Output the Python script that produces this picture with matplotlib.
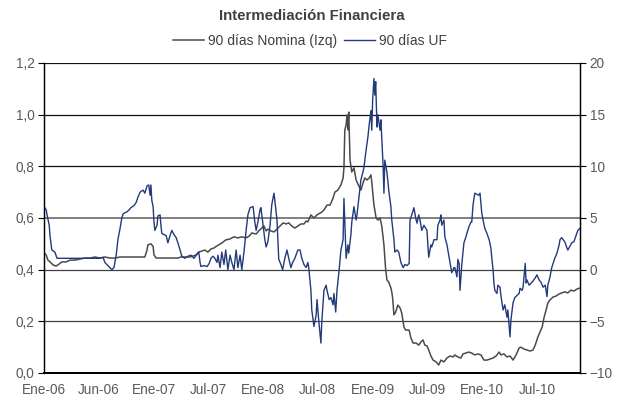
import matplotlib
matplotlib.use('Agg')
import matplotlib.pyplot as plt
from matplotlib.ticker import FuncFormatter

plt.rcParams['font.family'] = ['Liberation Sans', 'DejaVu Sans']

# eje x: numero de observacion (dias habiles desde Ene-06)
tick_obs = [0, 126, 252, 378, 504, 630, 756, 882, 1008, 1134]
tick_labels = ['Ene-06', 'Jun-06', 'Ene-07', 'Jul-07', 'Ene-08',
               'Jul-08', 'Ene-09', 'Jul-09', 'Ene-10', 'Jul-10']
n_obs = 1233

# 90 dias Nomina (eje izquierdo)
nom_obs = [0, 5, 9, 14, 21, 28, 35, 41, 51, 60, 71, 83, 94, 106, 117, 129, 140, 152,
           163, 175, 186, 198, 209, 221, 232, 237, 239, 246, 251, 253, 258, 267, 290,
           308, 315, 336, 350, 356, 363, 370, 377, 384, 391, 396, 402, 409, 418, 428,
           437, 446, 455, 465, 472, 478, 488, 494, 501, 506, 511, 515, 522, 529, 536,
           543, 550, 557, 563, 570, 577, 584, 591, 598, 603, 607, 614, 621, 628, 635,
           639, 644, 651, 658, 665, 669, 676, 683, 688, 690, 692, 695, 697, 699, 701,
           704, 708, 713, 718, 722, 729, 734, 738, 743, 748, 752, 754, 759, 764, 768,
           773, 777, 782, 786, 789, 793, 798, 800, 802, 805, 809, 814, 819, 823, 828,
           832, 840, 844, 849, 856, 862, 867, 872, 876, 881, 885, 890, 895, 902, 908,
           913, 920, 927, 934, 941, 945, 952, 959, 964, 970, 977, 984, 991, 998, 1005,
           1012, 1019, 1026, 1033, 1040, 1047, 1051, 1058, 1065, 1072, 1079, 1086, 1093,
           1097, 1104, 1111, 1118, 1125, 1130, 1136, 1141, 1146, 1150, 1155, 1159, 1164,
           1171, 1178, 1185, 1191, 1198, 1205, 1212, 1219, 1226, 1233]
nom_val = [0.465, 0.457, 0.437, 0.43, 0.418, 0.414, 0.422, 0.43, 0.43, 0.437, 0.437,
           0.441, 0.445, 0.445, 0.449, 0.445, 0.449, 0.445, 0.445, 0.449, 0.449, 0.449,
           0.449, 0.449, 0.449, 0.476, 0.496, 0.50, 0.49, 0.457, 0.445, 0.445, 0.445,
           0.445, 0.449, 0.449, 0.457, 0.468, 0.472, 0.476, 0.468, 0.48, 0.484, 0.49,
           0.496, 0.503, 0.515, 0.519, 0.527, 0.523, 0.527, 0.523, 0.53, 0.542, 0.538,
           0.55, 0.561, 0.569, 0.55, 0.557, 0.55, 0.546, 0.557, 0.569, 0.581, 0.577,
           0.581, 0.569, 0.561, 0.569, 0.577, 0.577, 0.588, 0.585, 0.612, 0.60, 0.612,
           0.619, 0.623, 0.631, 0.65, 0.65, 0.677, 0.70, 0.708, 0.728, 0.755, 0.794,
           0.941, 0.96, 0.999, 0.941, 1.01, 0.825, 0.778, 0.794, 0.747, 0.732, 0.708,
           0.736, 0.755, 0.747, 0.755, 0.767, 0.739, 0.65, 0.60, 0.592, 0.60, 0.569,
           0.496, 0.399, 0.36, 0.352, 0.329, 0.314, 0.29, 0.225, 0.236, 0.263, 0.252,
           0.232, 0.178, 0.166, 0.166, 0.136, 0.116, 0.116, 0.108, 0.12, 0.128, 0.108,
           0.105, 0.089, 0.066, 0.05, 0.043, 0.031, 0.05, 0.043, 0.058, 0.066, 0.062,
           0.07, 0.062, 0.058, 0.074, 0.077, 0.081, 0.077, 0.07, 0.074, 0.07, 0.05,
           0.05, 0.054, 0.058, 0.066, 0.081, 0.07, 0.074, 0.062, 0.066, 0.05, 0.07,
           0.097, 0.10, 0.093, 0.089, 0.085, 0.089, 0.108, 0.139, 0.159, 0.178, 0.213,
           0.244, 0.271, 0.283, 0.294, 0.298, 0.306, 0.31, 0.314, 0.31, 0.321, 0.317,
           0.325, 0.329]

# 90 dias UF (eje derecho)
uf_obs = [0, 5, 7, 12, 14, 18, 25, 30, 60, 94, 129, 136, 140, 147, 156, 161, 166, 170,
          175, 179, 182, 186, 191, 196, 200, 207, 212, 216, 221, 228, 232, 237, 241,
          244, 246, 248, 251, 253, 255, 260, 262, 267, 269, 271, 276, 281, 285, 290,
          294, 299, 304, 308, 313, 317, 324, 331, 338, 345, 352, 356, 359, 361, 368,
          375, 380, 384, 389, 393, 398, 400, 405, 409, 414, 418, 423, 428, 432, 437,
          442, 446, 451, 455, 460, 465, 469, 474, 481, 485, 488, 492, 497, 499, 504,
          508, 511, 515, 520, 524, 529, 531, 536, 538, 540, 545, 549, 554, 559, 563,
          568, 572, 577, 584, 589, 593, 598, 603, 607, 609, 614, 616, 621, 626, 628,
          632, 637, 639, 644, 649, 651, 656, 660, 665, 667, 671, 674, 679, 683, 688,
          690, 695, 699, 701, 706, 708, 713, 718, 720, 725, 729, 734, 736, 741, 745,
          748, 752, 754, 756, 759, 761, 763, 766, 768, 773, 775, 780, 782, 784, 789,
          793, 798, 800, 805, 807, 812, 816, 821, 826, 830, 835, 840, 842, 846, 851,
          855, 858, 862, 865, 869, 874, 881, 883, 885, 890, 892, 897, 904, 906, 911,
          913, 915, 920, 922, 927, 932, 934, 938, 943, 945, 950, 952, 955, 957, 961,
          966, 970, 975, 977, 982, 984, 987, 991, 996, 1000, 1003, 1007, 1010, 1014,
          1019, 1024, 1028, 1030, 1033, 1035, 1037, 1042, 1044, 1049, 1051, 1056, 1060,
          1065, 1067, 1072, 1074, 1079, 1083, 1088, 1093, 1095, 1100, 1102, 1107, 1109,
          1111, 1116, 1123, 1130, 1134, 1139, 1143, 1148, 1153, 1157, 1159, 1164, 1168,
          1171, 1175, 1180, 1185, 1187, 1191, 1196, 1198, 1203, 1205, 1210, 1214, 1219,
          1224, 1228, 1233]
uf_val = [6.1, 5.8, 5.3, 4.3, 3.2, 1.9, 1.7, 1.1, 1.1, 1.1, 1.1, 1.2, 0.7, 0.4, 0.0,
          0.2, 1.4, 2.9, 4.0, 5.0, 5.4, 5.5, 5.6, 5.8, 6.0, 6.2, 6.5, 7.0, 7.5, 7.7,
          7.4, 8.1, 8.2, 7.2, 8.2, 6.7, 6.1, 4.6, 3.8, 4.3, 5.2, 5.3, 4.3, 3.5, 3.4,
          3.3, 2.6, 3.3, 3.8, 3.4, 3.1, 2.6, 1.9, 1.3, 1.1, 1.3, 1.4, 1.1, 1.5, 1.7,
          0.7, 0.3, 0.4, 0.3, 0.6, 1.1, 1.3, 1.1, 0.7, 1.4, 0.2, 1.7, 0.5, 1.9, 0.0,
          1.4, 0.7, 0.0, 1.9, 0.2, 1.4, 0.0, 1.7, 3.8, 5.3, 6.0, 6.1, 4.6, 3.8, 4.6,
          5.8, 6.0, 4.3, 2.9, 2.2, 2.7, 4.3, 6.3, 7.4, 6.7, 4.8, 2.9, 1.0, 0.5, 0.0,
          1.1, 1.9, 1.1, 0.2, 0.7, 1.1, 1.9, 1.9, 1.1, 0.5, 0.2, 0.7, 0.2, -2.0, -3.9,
          -5.5, -4.4, -2.9, -4.9, -7.1, -5.1, -2.0, -1.5, -2.0, -2.9, -2.7, -3.4, -2.3,
          -4.1, -2.0, 0.0, 1.9, 2.9, 6.9, 1.1, 2.4, 1.6, 3.4, 4.6, 6.1, 4.8, 5.3, 7.2,
          8.7, 9.5, 9.9, 11.6, 12.8, 14.0, 15.4, 13.5, 16.4, 18.5, 16.9, 18.2, 13.8,
          15.0, 13.5, 14.5, 10.1, 7.4, 10.6, 9.4, 7.7, 6.1, 4.8, 2.9, 1.7, 1.9, 1.7,
          0.7, 0.2, 0.5, 0.4, 0.6, 4.8, 5.3, 6.0, 5.0, 4.5, 5.3, 4.8, 3.8, 4.3, 3.8,
          2.4, 1.2, 2.4, 2.2, 2.9, 2.9, 4.3, 4.8, 5.3, 4.3, 4.8, 3.2, 2.4, 1.2, 0.7,
          -0.3, 0.2, 0.2, -0.7, 1.0, 0.6, -2.0, 0.5, 2.6, 3.1, 3.8, 4.1, 4.6, 4.6, 6.3,
          7.4, 7.3, 7.2, 7.4, 5.5, 4.8, 4.0, 3.5, 2.9, 2.1, 1.2, 0.0, -1.3, -2.0, -2.3,
          -1.5, -1.7, -2.5, -3.9, -3.4, -4.6, -3.9, -6.5, -4.9, -3.2, -2.7, -2.5, -2.3,
          -1.8, -2.0, -1.7, 0.6, -1.3, -1.0, -1.5, -1.2, -0.8, -0.5, -1.0, -1.2, -1.7,
          -1.5, -2.6, -1.5, -0.7, 0.2, 0.6, 1.1, 1.6, 2.4, 2.9, 3.1, 2.8, 2.7, 2.1,
          1.9, 2.3, 2.6, 2.7, 3.3, 3.8, 4.0]

gris = '#4a4a4a'
azul = '#233a7b'
texto = '#595959'

fig = plt.figure(figsize=(6.28, 4.03), dpi=100)
ax = fig.add_axes([44 / 628, 30 / 403, 536 / 628, 310 / 403])
ax2 = ax.twinx()

# lineas horizontales de la grilla
for v in [0.2, 0.4, 0.6, 0.8, 1.0, 1.2]:
    c = '#808080' if v == 0.6 else ('#404040' if v < 0.6 else '#111111')
    lw = 1.4 if v == 0.6 else 0.9
    ax.axhline(v, color=c, lw=lw, zorder=0)

l1, = ax.plot(nom_obs, nom_val, color=gris, lw=1.1, label='90 días Nomina (Izq)')
l2, = ax2.plot(uf_obs, uf_val, color=azul, lw=1.0, label='90 días UF')

ax.set_xlim(0, n_obs)
ax.set_ylim(0, 1.2)
ax2.set_ylim(-10, 20)
ax.set_yticks([0, 0.2, 0.4, 0.6, 0.8, 1.0, 1.2])
ax2.set_yticks([-10, -5, 0, 5, 10, 15, 20])
ax.yaxis.set_major_formatter(FuncFormatter(lambda v, p: f'{v:.1f}'.replace('.', ',')))
ax.set_xticks(tick_obs)
ax.set_xticklabels(tick_labels)

ax.tick_params(axis='x', length=0, pad=7, labelsize=9.8, colors=texto)
ax.tick_params(axis='y', length=4, width=0.8, color='black', labelsize=9.8,
               labelcolor=texto, pad=3)
ax2.tick_params(axis='y', length=4, width=0.8, color='black', labelsize=9.8,
                labelcolor=texto, pad=3)

for a in (ax, ax2):
    a.spines['top'].set_visible(False)
    a.spines['left'].set_color('black')
    a.spines['right'].set_color('black')
    a.spines['bottom'].set_color('black')
    a.spines['bottom'].set_linewidth(1.4)
    a.spines['left'].set_linewidth(0.9)
    a.spines['right'].set_linewidth(0.9)

fig.text(312 / 628, 1 - 16 / 403, 'Intermediación Financiera', ha='center', va='center',
         fontsize=10.8, fontweight='bold', color='#404040')
fig.legend(handles=[l1, l2], loc='center', bbox_to_anchor=(310 / 628, 1 - 41 / 403),
           ncol=2, frameon=False, fontsize=10, handlelength=2.2, handletextpad=0.3,
           columnspacing=0.5, labelcolor='#404040')

fig.savefig('out.png', dpi=100)
